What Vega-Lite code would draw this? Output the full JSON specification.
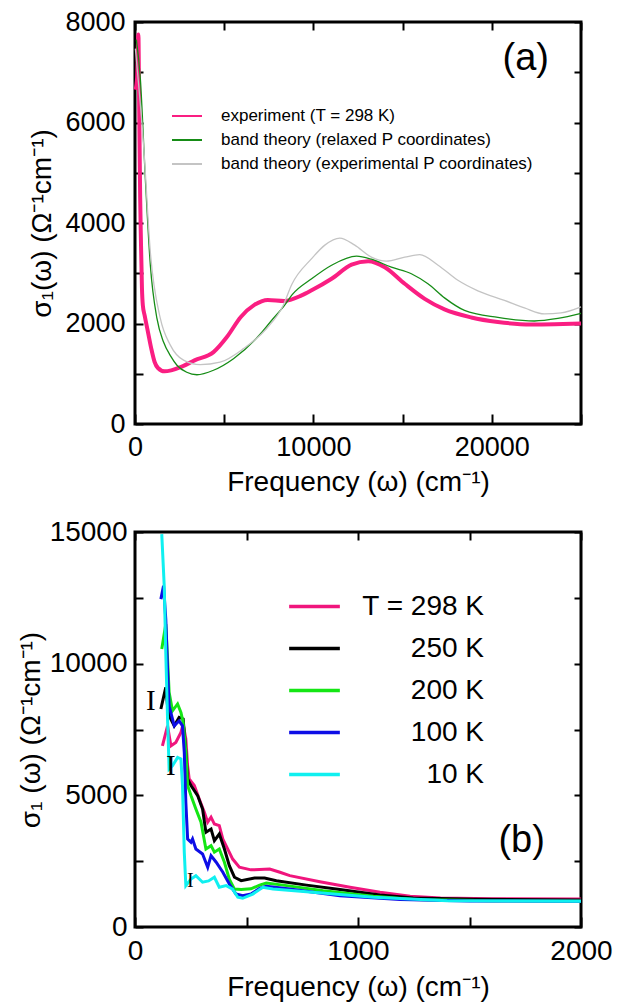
{
"$schema": "https://vega.github.io/schema/vega-lite/v6.json",
"background": "white",
"padding": {"left": 15, "top": 6, "right": 8, "bottom": 4},
"spacing": 18,
"resolve": {"scale": {"color": "independent"}, "legend": {"color": "independent"}},
"config": {
  "view": {"stroke": "black", "strokeWidth": 3},
  "font": "Liberation Sans",
  "axis": {"labelFont": "Liberation Sans", "titleFont": "Liberation Sans", "labelColor": "black", "titleColor": "black", "ticks": true, "tickColor": "black", "tickOpacity": 1, "tickWidth": 2, "domain": false, "grid": false, "labelFlush": false, "titleFontWeight": "normal", "labelFontSize": 27, "titleFontSize": 28, "zindex": 2},
  "legend": {"labelFont": "Liberation Sans", "labelColor": "black", "padding": 0, "labelLimit": 0}
},
"datasets": {
  "a": [
    {"f":30,"s":6650,"series":"experiment (T = 298 K)"},{"f":120,"s":6900,"series":"experiment (T = 298 K)"},{"f":190,"s":7750,"series":"experiment (T = 298 K)"},{"f":230,"s":6500,"series":"experiment (T = 298 K)"},{"f":290,"s":4500,"series":"experiment (T = 298 K)"},{"f":330,"s":3700,"series":"experiment (T = 298 K)"},{"f":390,"s":2700,"series":"experiment (T = 298 K)"},{"f":440,"s":2360,"series":"experiment (T = 298 K)"},{"f":540,"s":2160,"series":"experiment (T = 298 K)"},{"f":727,"s":1830,"series":"experiment (T = 298 K)"},{"f":913,"s":1500,"series":"experiment (T = 298 K)"},{"f":1100,"s":1234,"series":"experiment (T = 298 K)"},{"f":1286,"s":1115,"series":"experiment (T = 298 K)"},{"f":1659,"s":1048,"series":"experiment (T = 298 K)"},{"f":2031,"s":1068,"series":"experiment (T = 298 K)"},{"f":2590,"s":1135,"series":"experiment (T = 298 K)"},{"f":3337,"s":1267,"series":"experiment (T = 298 K)"},{"f":4400,"s":1430,"series":"experiment (T = 298 K)"},{"f":5150,"s":1730,"series":"experiment (T = 298 K)"},{"f":5930,"s":2130,"series":"experiment (T = 298 K)"},{"f":6690,"s":2370,"series":"experiment (T = 298 K)"},{"f":7440,"s":2470,"series":"experiment (T = 298 K)"},{"f":8370,"s":2450,"series":"experiment (T = 298 K)"},{"f":9340,"s":2560,"series":"experiment (T = 298 K)"},{"f":9900,"s":2660,"series":"experiment (T = 298 K)"},{"f":11020,"s":2890,"series":"experiment (T = 298 K)"},{"f":12140,"s":3170,"series":"experiment (T = 298 K)"},{"f":13070,"s":3240,"series":"experiment (T = 298 K)"},{"f":14000,"s":3120,"series":"experiment (T = 298 K)"},{"f":15120,"s":2790,"series":"experiment (T = 298 K)"},{"f":16240,"s":2490,"series":"experiment (T = 298 K)"},{"f":17350,"s":2280,"series":"experiment (T = 298 K)"},{"f":18850,"s":2120,"series":"experiment (T = 298 K)"},{"f":20340,"s":2030,"series":"experiment (T = 298 K)"},{"f":22200,"s":1980,"series":"experiment (T = 298 K)"},{"f":23500,"s":1985,"series":"experiment (T = 298 K)"},{"f":25000,"s":2000,"series":"experiment (T = 298 K)"},
    {"f":75,"s":7650,"series":"band theory (relaxed P coordinates)"},{"f":300,"s":6870,"series":"band theory (relaxed P coordinates)"},{"f":580,"s":4880,"series":"band theory (relaxed P coordinates)"},{"f":860,"s":3160,"series":"band theory (relaxed P coordinates)"},{"f":1230,"s":2100,"series":"band theory (relaxed P coordinates)"},{"f":1600,"s":1630,"series":"band theory (relaxed P coordinates)"},{"f":2000,"s":1350,"series":"band theory (relaxed P coordinates)"},{"f":2350,"s":1170,"series":"band theory (relaxed P coordinates)"},{"f":2900,"s":1030,"series":"band theory (relaxed P coordinates)"},{"f":3470,"s":980,"series":"band theory (relaxed P coordinates)"},{"f":4400,"s":1070,"series":"band theory (relaxed P coordinates)"},{"f":5520,"s":1300,"series":"band theory (relaxed P coordinates)"},{"f":7000,"s":1780,"series":"band theory (relaxed P coordinates)"},{"f":7700,"s":2080,"series":"band theory (relaxed P coordinates)"},{"f":8400,"s":2370,"series":"band theory (relaxed P coordinates)"},{"f":8800,"s":2570,"series":"band theory (relaxed P coordinates)"},{"f":9900,"s":2890,"series":"band theory (relaxed P coordinates)"},{"f":11020,"s":3160,"series":"band theory (relaxed P coordinates)"},{"f":12420,"s":3340,"series":"band theory (relaxed P coordinates)"},{"f":13250,"s":3280,"series":"band theory (relaxed P coordinates)"},{"f":14370,"s":3120,"series":"band theory (relaxed P coordinates)"},{"f":15490,"s":2990,"series":"band theory (relaxed P coordinates)"},{"f":16420,"s":2790,"series":"band theory (relaxed P coordinates)"},{"f":17350,"s":2510,"series":"band theory (relaxed P coordinates)"},{"f":18470,"s":2260,"series":"band theory (relaxed P coordinates)"},{"f":20340,"s":2120,"series":"band theory (relaxed P coordinates)"},{"f":22390,"s":2050,"series":"band theory (relaxed P coordinates)"},{"f":23700,"s":2100,"series":"band theory (relaxed P coordinates)"},{"f":25000,"s":2200,"series":"band theory (relaxed P coordinates)"},
    {"f":20,"s":7470,"series":"band theory (experimental P coordinates)"},{"f":480,"s":5550,"series":"band theory (experimental P coordinates)"},{"f":860,"s":3420,"series":"band theory (experimental P coordinates)"},{"f":1420,"s":2100,"series":"band theory (experimental P coordinates)"},{"f":1980,"s":1570,"series":"band theory (experimental P coordinates)"},{"f":2720,"s":1270,"series":"band theory (experimental P coordinates)"},{"f":3650,"s":1180,"series":"band theory (experimental P coordinates)"},{"f":4770,"s":1230,"series":"band theory (experimental P coordinates)"},{"f":6080,"s":1500,"series":"band theory (experimental P coordinates)"},{"f":7380,"s":1900,"series":"band theory (experimental P coordinates)"},{"f":8320,"s":2370,"series":"band theory (experimental P coordinates)"},{"f":8780,"s":2770,"series":"band theory (experimental P coordinates)"},{"f":9900,"s":3290,"series":"band theory (experimental P coordinates)"},{"f":10640,"s":3560,"series":"band theory (experimental P coordinates)"},{"f":11480,"s":3700,"series":"band theory (experimental P coordinates)"},{"f":12320,"s":3560,"series":"band theory (experimental P coordinates)"},{"f":13250,"s":3320,"series":"band theory (experimental P coordinates)"},{"f":14090,"s":3240,"series":"band theory (experimental P coordinates)"},{"f":15120,"s":3320,"series":"band theory (experimental P coordinates)"},{"f":15960,"s":3370,"series":"band theory (experimental P coordinates)"},{"f":16990,"s":3160,"series":"band theory (experimental P coordinates)"},{"f":18100,"s":2860,"series":"band theory (experimental P coordinates)"},{"f":19220,"s":2650,"series":"band theory (experimental P coordinates)"},{"f":20710,"s":2460,"series":"band theory (experimental P coordinates)"},{"f":21830,"s":2310,"series":"band theory (experimental P coordinates)"},{"f":22950,"s":2190,"series":"band theory (experimental P coordinates)"},{"f":23880,"s":2210,"series":"band theory (experimental P coordinates)"},{"f":25000,"s":2330,"series":"band theory (experimental P coordinates)"}
  ],
  "b": [
    {"f":123,"s":6880,"T":"T = 298 K"},{"f":146,"s":7640,"T":"T = 298 K"},{"f":161,"s":6880,"T":"T = 298 K"},{"f":183,"s":7010,"T":"T = 298 K"},{"f":206,"s":7390,"T":"T = 298 K"},{"f":216,"s":7710,"T":"T = 298 K"},{"f":228,"s":7140,"T":"T = 298 K"},{"f":236,"s":6120,"T":"T = 298 K"},{"f":243,"s":5620,"T":"T = 298 K"},{"f":266,"s":5370,"T":"T = 298 K"},{"f":288,"s":4860,"T":"T = 298 K"},{"f":311,"s":4360,"T":"T = 298 K"},{"f":326,"s":3980,"T":"T = 298 K"},{"f":341,"s":4170,"T":"T = 298 K"},{"f":356,"s":3910,"T":"T = 298 K"},{"f":378,"s":3850,"T":"T = 298 K"},{"f":394,"s":3340,"T":"T = 298 K"},{"f":416,"s":2960,"T":"T = 298 K"},{"f":438,"s":2580,"T":"T = 298 K"},{"f":468,"s":2270,"T":"T = 298 K"},{"f":520,"s":2170,"T":"T = 298 K"},{"f":559,"s":2180,"T":"T = 298 K"},{"f":604,"s":2200,"T":"T = 298 K"},{"f":650,"s":2080,"T":"T = 298 K"},{"f":694,"s":1950,"T":"T = 298 K"},{"f":829,"s":1720,"T":"T = 298 K"},{"f":964,"s":1510,"T":"T = 298 K"},{"f":1099,"s":1320,"T":"T = 298 K"},{"f":1234,"s":1170,"T":"T = 298 K"},{"f":1370,"s":1100,"T":"T = 298 K"},{"f":1600,"s":1075,"T":"T = 298 K"},{"f":2000,"s":1060,"T":"T = 298 K"},
    {"f":116,"s":8280,"T":"250 K"},{"f":138,"s":9100,"T":"250 K"},{"f":146,"s":8400,"T":"250 K"},{"f":153,"s":8020,"T":"250 K"},{"f":176,"s":7640,"T":"250 K"},{"f":198,"s":7960,"T":"250 K"},{"f":216,"s":7900,"T":"250 K"},{"f":228,"s":6630,"T":"250 K"},{"f":236,"s":5620,"T":"250 K"},{"f":251,"s":5370,"T":"250 K"},{"f":281,"s":4990,"T":"250 K"},{"f":303,"s":4480,"T":"250 K"},{"f":318,"s":3600,"T":"250 K"},{"f":341,"s":3720,"T":"250 K"},{"f":356,"s":3280,"T":"250 K"},{"f":378,"s":3530,"T":"250 K"},{"f":401,"s":2960,"T":"250 K"},{"f":423,"s":2330,"T":"250 K"},{"f":446,"s":1890,"T":"250 K"},{"f":476,"s":1760,"T":"250 K"},{"f":536,"s":1860,"T":"250 K"},{"f":581,"s":1860,"T":"250 K"},{"f":634,"s":1760,"T":"250 K"},{"f":769,"s":1590,"T":"250 K"},{"f":919,"s":1420,"T":"250 K"},{"f":1099,"s":1215,"T":"250 K"},{"f":1248,"s":1100,"T":"250 K"},{"f":1518,"s":1050,"T":"250 K"},{"f":2000,"s":1025,"T":"250 K"},
    {"f":120,"s":10560,"T":"200 K"},{"f":138,"s":11500,"T":"200 K"},{"f":146,"s":10180,"T":"200 K"},{"f":153,"s":8910,"T":"200 K"},{"f":168,"s":8210,"T":"200 K"},{"f":191,"s":8470,"T":"200 K"},{"f":206,"s":8150,"T":"200 K"},{"f":216,"s":7770,"T":"200 K"},{"f":228,"s":6630,"T":"200 K"},{"f":236,"s":5370,"T":"200 K"},{"f":251,"s":4990,"T":"200 K"},{"f":273,"s":4480,"T":"200 K"},{"f":296,"s":3980,"T":"200 K"},{"f":318,"s":2960,"T":"200 K"},{"f":341,"s":3090,"T":"200 K"},{"f":356,"s":2840,"T":"200 K"},{"f":378,"s":2960,"T":"200 K"},{"f":401,"s":2460,"T":"200 K"},{"f":423,"s":1820,"T":"200 K"},{"f":446,"s":1440,"T":"200 K"},{"f":476,"s":1420,"T":"200 K"},{"f":520,"s":1450,"T":"200 K"},{"f":559,"s":1590,"T":"200 K"},{"f":589,"s":1670,"T":"200 K"},{"f":664,"s":1590,"T":"200 K"},{"f":844,"s":1380,"T":"200 K"},{"f":1069,"s":1170,"T":"200 K"},{"f":1249,"s":1040,"T":"200 K"},{"f":1600,"s":1000,"T":"200 K"},{"f":2000,"s":990,"T":"200 K"},
    {"f":116,"s":12450,"T":"100 K"},{"f":128,"s":12960,"T":"100 K"},{"f":138,"s":11700,"T":"100 K"},{"f":146,"s":9800,"T":"100 K"},{"f":153,"s":8400,"T":"100 K"},{"f":176,"s":7640,"T":"100 K"},{"f":198,"s":7830,"T":"100 K"},{"f":213,"s":7640,"T":"100 K"},{"f":221,"s":6630,"T":"100 K"},{"f":228,"s":4730,"T":"100 K"},{"f":236,"s":3340,"T":"100 K"},{"f":251,"s":3220,"T":"100 K"},{"f":258,"s":3340,"T":"100 K"},{"f":273,"s":2960,"T":"100 K"},{"f":303,"s":2770,"T":"100 K"},{"f":326,"s":2270,"T":"100 K"},{"f":341,"s":2710,"T":"100 K"},{"f":364,"s":2460,"T":"100 K"},{"f":394,"s":2080,"T":"100 K"},{"f":423,"s":1630,"T":"100 K"},{"f":453,"s":1250,"T":"100 K"},{"f":483,"s":1190,"T":"100 K"},{"f":520,"s":1250,"T":"100 K"},{"f":559,"s":1470,"T":"100 K"},{"f":589,"s":1545,"T":"100 K"},{"f":694,"s":1440,"T":"100 K"},{"f":919,"s":1190,"T":"100 K"},{"f":1189,"s":1040,"T":"100 K"},{"f":1500,"s":990,"T":"100 K"},{"f":2000,"s":975,"T":"100 K"},
    {"f":120,"s":14920,"T":"10 K"},{"f":131,"s":12960,"T":"10 K"},{"f":138,"s":10430,"T":"10 K"},{"f":146,"s":7900,"T":"10 K"},{"f":153,"s":6000,"T":"10 K"},{"f":168,"s":6120,"T":"10 K"},{"f":191,"s":6440,"T":"10 K"},{"f":206,"s":6380,"T":"10 K"},{"f":213,"s":5370,"T":"10 K"},{"f":221,"s":2840,"T":"10 K"},{"f":228,"s":1570,"T":"10 K"},{"f":251,"s":1820,"T":"10 K"},{"f":273,"s":1950,"T":"10 K"},{"f":303,"s":1700,"T":"10 K"},{"f":330,"s":1750,"T":"10 K"},{"f":356,"s":1890,"T":"10 K"},{"f":378,"s":1510,"T":"10 K"},{"f":409,"s":1570,"T":"10 K"},{"f":438,"s":1440,"T":"10 K"},{"f":461,"s":1130,"T":"10 K"},{"f":483,"s":1090,"T":"10 K"},{"f":528,"s":1250,"T":"10 K"},{"f":573,"s":1510,"T":"10 K"},{"f":619,"s":1440,"T":"10 K"},{"f":769,"s":1340,"T":"10 K"},{"f":1069,"s":1130,"T":"10 K"},{"f":1400,"s":1000,"T":"10 K"},{"f":2000,"s":975,"T":"10 K"}
  ],
  "alab": [{"f": 21900, "s": 7260, "label": "(a)"}],
  "blab": [{"f": 1734, "s": 3265, "label": "(b)"}],
  "bars": [{"f": 71, "s": 8590, "label": "I"}, {"f": 161, "s": 6120, "label": "I"}, {"f": 248, "s": 1760, "label": "I"}]
},
"vconcat": [
  {
    "width": 446, "height": 402,
    "layer": [
      {
        "data": {"name": "a"},
        "mark": {"type": "line", "interpolate": "monotone"},
        "encoding": {
          "x": {"field": "f", "type": "quantitative", "scale": {"domain": [0, 25000], "nice": false},
                "axis": {"orient": "bottom", "values": [0, 5000, 10000, 15000, 20000, 25000], "format": "d",
                         "labelExpr": "datum.value % 10000 == 0 ? datum.label : ''",
                         "offset": -10, "tickSize": 10, "labelPadding": 10,
                         "title": "Frequency (ω) (cm⁻¹)", "titlePadding": 8}},
          "y": {"field": "s", "type": "quantitative", "scale": {"domain": [0, 8000], "nice": false},
                "axis": {"orient": "left", "values": [0, 1000, 2000, 3000, 4000, 5000, 6000, 7000, 8000], "format": "d",
                         "labelExpr": "datum.value % 2000 == 0 ? datum.label : ''",
                         "offset": -8, "tickSize": 8, "labelPadding": 10,
                         "title": "σ₁(ω)  (Ω⁻¹cm⁻¹)", "titlePadding": 8}},
          "color": {"field": "series", "type": "nominal",
                    "scale": {"domain": ["experiment (T = 298 K)", "band theory (relaxed P coordinates)", "band theory (experimental P coordinates)"], "range": ["#fa1e82", "#168c16", "#c4c4c4"]},
                    "legend": {"orient": "none", "legendX": 36, "legendY": 78, "title": null, "symbolType": "stroke", "symbolSize": 900, "symbolStrokeWidth": 2, "labelFontSize": 17, "rowPadding": 0, "labelOffset": 18}},
          "strokeWidth": {"condition": {"test": "datum.series == 'experiment (T = 298 K)'", "value": 4}, "value": 1.3}
        }
      },
      {
        "data": {"name": "alab"},
        "mark": {"type": "text", "fontSize": 38, "font": "Liberation Sans", "color": "black", "align": "center", "baseline": "middle"},
        "encoding": {
          "x": {"field": "f", "type": "quantitative", "axis": {"orient": "top", "values": [0, 5000, 10000, 15000, 20000, 25000], "labels": false, "offset": -8, "tickSize": 8, "title": null}},
          "y": {"field": "s", "type": "quantitative", "axis": {"orient": "right", "values": [0, 1000, 2000, 3000, 4000, 5000, 6000, 7000, 8000], "labels": false, "offset": -7, "tickSize": 7, "title": null}},
          "text": {"field": "label"}
        }
      }
    ],
    "resolve": {"axis": {"x": "independent", "y": "independent"}}
  },
  {
    "width": 446, "height": 395,
    "layer": [
      {
        "data": {"name": "b"},
        "mark": {"type": "line", "strokeWidth": 3},
        "encoding": {
          "x": {"field": "f", "type": "quantitative", "scale": {"domain": [0, 2000], "nice": false},
                "axis": {"orient": "bottom", "values": [0, 500, 1000, 1500, 2000], "format": "d", "labelFontSize": 28,
                         "labelExpr": "datum.value % 1000 == 0 ? datum.label : ''",
                         "offset": -10, "tickSize": 10, "labelPadding": 10,
                         "title": "Frequency (ω)  (cm⁻¹)", "titlePadding": 8}},
          "y": {"field": "s", "type": "quantitative", "scale": {"domain": [0, 15000], "nice": false},
                "axis": {"orient": "left", "values": [0, 2500, 5000, 7500, 10000, 12500, 15000], "format": "d", "labelFontSize": 28,
                         "labelExpr": "datum.value % 5000 == 0 ? datum.label : ''",
                         "offset": -8, "tickSize": 8, "labelPadding": 8,
                         "title": "σ₁ (ω)  (Ω⁻¹cm⁻¹)", "titlePadding": 4}},
          "color": {"field": "T", "type": "nominal",
                    "scale": {"domain": ["T = 298 K", "250 K", "200 K", "100 K", "10 K"], "range": ["#f0157d", "#000000", "#14e614", "#0d0de6", "#0ff0f0"]},
                    "legend": {"orient": "none", "legendX": 152, "legendY": 47, "title": null, "symbolType": "stroke", "symbolSize": 2570, "symbolStrokeWidth": 3.5, "labelFontSize": 28, "rowPadding": 0, "labelOffset": 142, "labelAlign": "right"}}
        }
      },
      {
        "data": {"name": "blab"},
        "mark": {"type": "text", "fontSize": 38, "font": "Liberation Sans", "color": "black", "align": "center", "baseline": "middle"},
        "encoding": {
          "x": {"field": "f", "type": "quantitative", "axis": {"orient": "top", "values": [0, 500, 1000, 1500, 2000], "labels": false, "offset": -8, "tickSize": 8, "title": null}},
          "y": {"field": "s", "type": "quantitative", "axis": {"orient": "right", "values": [0, 2500, 5000, 7500, 10000, 12500, 15000], "labels": false, "offset": -7, "tickSize": 7, "title": null}},
          "text": {"field": "label"}
        }
      },
      {
        "data": {"name": "bars"},
        "mark": {"type": "text", "font": "Liberation Serif", "color": "black", "align": "center", "baseline": "middle"},
        "encoding": {
          "x": {"field": "f", "type": "quantitative", "axis": null},
          "y": {"field": "s", "type": "quantitative", "axis": null},
          "text": {"field": "label"},
          "size": {"condition": {"test": "datum.f > 200", "value": 20}, "value": 29}
        }
      }
    ],
    "resolve": {"axis": {"x": "independent", "y": "independent"}}
  }
]
}
